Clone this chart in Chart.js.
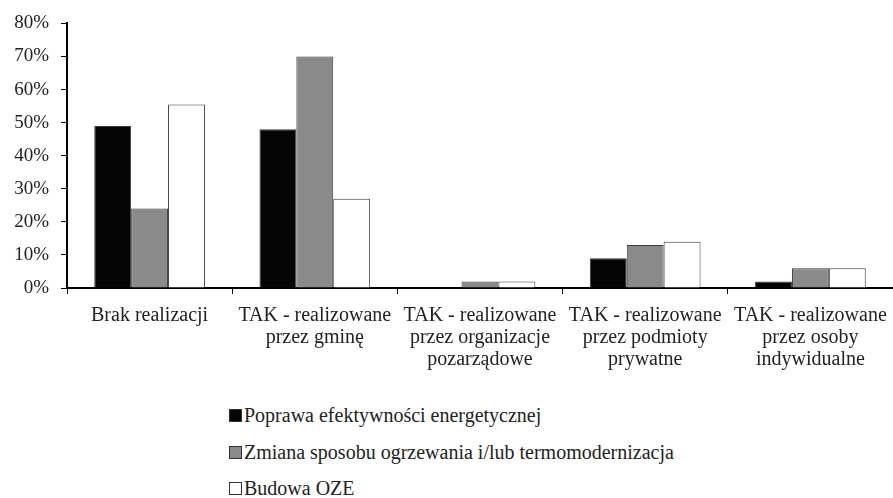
<!DOCTYPE html>
<html><head><meta charset="utf-8">
<script src="https://cdn.jsdelivr.net/npm/chart.js@4.4.0/dist/chart.umd.min.js"></script>
<style>
html,body{margin:0;padding:0;background:#fff;}
#wrap{position:relative;width:893px;height:375px;}
#legend{position:absolute;left:229px;top:397px;font-family:"Liberation Serif","Times New Roman",serif;font-size:20px;color:#222;}
#legend div{height:36.5px;line-height:36.5px;white-space:nowrap;}
#legend span.b{display:inline-block;width:13px;height:13px;border:1px solid #333;margin-right:2px;box-sizing:border-box;vertical-align:baseline;}
</style></head>
<body>
<div id="wrap"><canvas id="c" width="893" height="375"></canvas></div>
<div id="legend"></div>
<script>
const categories = [
  "Brak realizacji",
  ["TAK - realizowane", "przez gminę"],
  ["TAK - realizowane", "przez organizacje", "pozarządowe"],
  ["TAK - realizowane", "przez podmioty", "prywatne"],
  ["TAK - realizowane", "przez osoby", "indywidualne"]
];
const seriesNames = [
  "Poprawa efektywności energetycznej",
  "Zmiana sposobu ogrzewania i/lub termomodernizacja",
  "Budowa OZE"
];
const efektywnosc = [49, 48, 0, 9, 2];
const ogrzewanie = [24, 70, 2, 13, 6];
const oze = [55.5, 27, 2, 14, 6];
const yTicks = [0, 10, 20, 30, 40, 50, 60, 70, 80];

const fills = ["#050505", "#8a8a8a", "#ffffff"];
const fam = "'Liberation Serif', 'Times New Roman', serif";

const chart = new Chart(document.getElementById('c'), {
  type: 'bar',
  data: {
    labels: categories,
    datasets: [efektywnosc, ogrzewanie, oze].map((d, i) => ({
      label: seriesNames[i],
      data: d,
      backgroundColor: fills[i],
      borderColor: "#3a3a3a",
      borderWidth: 1,
      barPercentage: 1,
      categoryPercentage: 0.67
    }))
  },
  options: {
    responsive: false,
    animation: false,
    layout: {padding: {top: 12, right: 0, left: 0, bottom: 0}},
    plugins: {legend: {display: false}, tooltip: {enabled: false}},
    scales: {
      x: {
        afterFit: s => { s.height = 87; s.paddingLeft = 0; s.paddingRight = 0; },
        border: {color: "#000", width: 2},
        grid: {display: true, drawOnChartArea: false, drawTicks: true, tickLength: 6, color: "#000", lineWidth: 1},
        ticks: {color: "#222", font: {family: fam, size: 20, lineHeight: 1.1}, maxRotation: 0, autoSkip: false, padding: 11}
      },
      y: {
        min: 0, max: 80,
        afterFit: s => { s.width = 67; },
        afterBuildTicks: s => { s.ticks = yTicks.map(v => ({value: v})); },
        border: {color: "#000", width: 2},
        grid: {display: true, drawOnChartArea: false, drawTicks: true, tickLength: 6, color: "#000", lineWidth: 1},
        ticks: {color: "#222", font: {family: fam, size: 19}, padding: 12, callback: v => v + "%"}
      }
    }
  }
});

const lg = document.getElementById('legend');
chart.data.datasets.forEach(ds => {
  const row = document.createElement('div');
  const box = document.createElement('span');
  box.className = 'b';
  box.style.background = ds.backgroundColor;
  row.appendChild(box);
  row.appendChild(document.createTextNode(ds.label));
  lg.appendChild(row);
});
</script>
</body></html>
